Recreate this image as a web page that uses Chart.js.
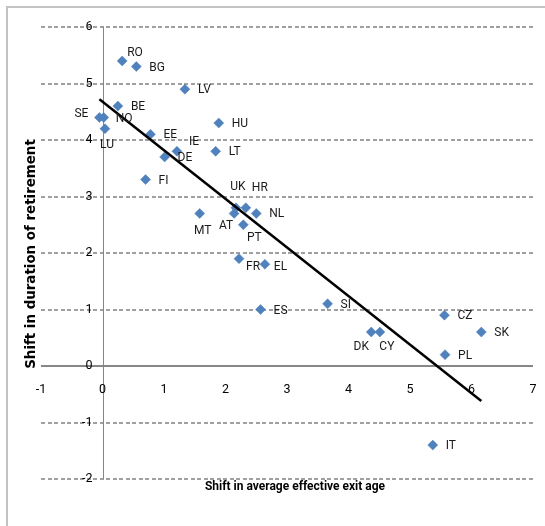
<!DOCTYPE html>
<html>
<head>
<meta charset="utf-8">
<script src="https://cdn.jsdelivr.net/npm/chart.js@4.4.0/dist/chart.umd.min.js"></script>
<style>
  html, body { margin: 0; padding: 0; background: #fff; }
  #wrap { width: 545px; height: 526px; position: relative; }
</style>
</head>
<body>
<div id="wrap"><canvas id="chart"></canvas></div>
<script>
// country codes and their two shifts (years)
const countries = ['RO', 'BG', 'LV', 'BE', 'SE', 'NO', 'LU', 'HU', 'EE', 'IE', 'DE', 'LT', 'FI', 'MT', 'UK',
    'HR', 'AT', 'NL', 'PT', 'FR', 'EL', 'ES', 'SI', 'DK', 'CY', 'CZ', 'SK', 'PL', 'IT'];
const exitAgeShift = [0.32, 0.55, 1.34, 0.25, -0.05, 0.02, 0.04, 1.89, 0.78, 1.21, 1.01, 1.84, 0.70, 1.58, 2.17,
    2.33, 2.14, 2.50, 2.29, 2.22, 2.64, 2.57, 3.66, 4.37, 4.51, 5.56, 6.16, 5.57, 5.37];
const retirementShift = [5.4, 5.3, 4.9, 4.6, 4.4, 4.4, 4.2, 4.3, 4.1, 3.8, 3.7, 3.8, 3.3, 2.7, 2.8,
    2.8, 2.7, 2.7, 2.5, 1.9, 1.8, 1.0, 1.1, 0.6, 0.6, 0.9, 0.6, 0.2, -1.4];

// fitted line end points
const trendX = [-0.05, 6.16];
const trendY = [4.72, -0.62];

const xTitle = 'Shift in average effective exit age';
const yTitle = 'Shift in duration of retirement';

// where each country label sits relative to its marker: [align, dx, dy]
const labelSpots = {
    RO: ['left', 5, -8], SE: ['right', -11, -3], NO: ['left', 12, 2], LU: ['center', 2, 16],
    IE: ['left', 12, -9], MT: ['center', 3, 18], UK: ['center', 2, -21], HR: ['center', 14, -20],
    AT: ['center', -8, 13], PT: ['center', 11, 13], FR: ['center', 14, 8], EL: ['left', 9, 3],
    DK: ['center', -10, 15], CY: ['center', 7, 15]
};

const face = "Roboto, 'Liberation Sans', sans-serif";

const points = countries.map((c, i) => ({ x: exitAgeShift[i], y: retirementShift[i] }));
const trend = trendX.map((x, i) => ({ x: x, y: trendY[i] }));

// axes cross at the origin, so grid, axis lines and tick labels are placed here
const crossAxes = {
    id: 'crossAxes',
    beforeDatasetsDraw(chart) {
        const ctx = chart.ctx;
        const xs = chart.scales.x, ys = chart.scales.y;
        const area = chart.chartArea;
        const x0 = Math.round(xs.getPixelForValue(0)) + 0.5;
        const y0 = Math.round(ys.getPixelForValue(0));
        ctx.save();

        // dashed horizontal grid, dash by dash
        ctx.fillStyle = '#a0a0a0';
        ys.ticks.forEach(t => {
            if (t.value === 0) return;
            const y = Math.round(ys.getPixelForValue(t.value)) - 1;
            for (let x = area.left; x < area.right; x += 6.5) {
                ctx.fillRect(Math.round(x), y, Math.min(4, area.right - x), 2);
            }
        });

        ctx.strokeStyle = '#868686';
        ctx.lineWidth = 1;
        ctx.beginPath();
        ctx.moveTo(x0, area.top);
        ctx.lineTo(x0, area.bottom);
        ctx.stroke();
        ctx.lineWidth = 2;
        ctx.beginPath();
        ctx.moveTo(area.left, y0);
        ctx.lineTo(area.right, y0);
        ctx.stroke();

        ctx.fillStyle = '#000';
        ctx.font = "12.5px " + face;
        ctx.textBaseline = 'middle';
        ctx.textAlign = 'right';
        ys.ticks.forEach(t => {
            ctx.fillText(String(t.value), x0 - 11, ys.getPixelForValue(t.value));
        });
        ctx.textAlign = 'center';
        xs.ticks.forEach(t => {
            ctx.fillText(String(t.value), xs.getPixelForValue(t.value), y0 + 24);
        });
        ctx.restore();
    },
    afterDraw(chart) {
        const ctx = chart.ctx;
        ctx.save();
        // outer frame (only top and left show)
        ctx.strokeStyle = '#c3c3c3';
        ctx.lineWidth = 2;
        ctx.beginPath();
        ctx.moveTo(7, 526);
        ctx.lineTo(7, 7);
        ctx.lineTo(545, 7);
        ctx.stroke();

        ctx.fillStyle = '#000';
        ctx.textAlign = 'center';
        ctx.textBaseline = 'middle';
        ctx.font = "bold 12px " + face;
        ctx.fillText(xTitle, 295, 487);

        ctx.translate(32, 254);
        ctx.rotate(-Math.PI / 2);
        ctx.font = "bold 13.4px 'DejaVu Sans', sans-serif";
        ctx.fillText(yTitle, 0, 0);
        ctx.restore();
    },
    afterDatasetsDraw(chart) {
        const ctx = chart.ctx;
        const meta = chart.getDatasetMeta(1);
        ctx.save();
        ctx.font = "12px " + face;
        ctx.fillStyle = '#1a1a1a';
        ctx.textBaseline = 'middle';
        meta.data.forEach((pt, i) => {
            const spot = labelSpots[countries[i]] || ['left', 13, 1];
            ctx.textAlign = spot[0];
            ctx.fillText(countries[i], pt.x + spot[1], pt.y + spot[2]);
        });
        ctx.restore();
    }
};

new Chart(document.getElementById('chart'), {
    type: 'scatter',
    data: {
        datasets: [{
            type: 'line',
            data: trend,
            borderColor: '#000',
            borderWidth: 2.5,
            pointRadius: 0,
            fill: false,
        }, {
            data: points,
            pointStyle: 'rectRot',
            pointRadius: 5,
            backgroundColor: '#4F81BD',
            borderColor: '#4F81BD',
            borderWidth: 0.5,
        }]
    },
    options: {
        responsive: true,
        maintainAspectRatio: false,
        animation: false,
        devicePixelRatio: 1,
        layout: { padding: { left: 41, right: 12, top: 27, bottom: 47 } },
        plugins: { legend: { display: false }, tooltip: { enabled: false } },
        scales: {
            x: {
                type: 'linear',
                min: -1, max: 7,
                ticks: { stepSize: 1, display: false },
                grid: { display: false, drawTicks: false },
                border: { display: false },
            },
            y: {
                type: 'linear',
                min: -2, max: 6,
                ticks: { stepSize: 1, display: false },
                grid: { display: false, drawTicks: false },
                border: { display: false },
            }
        }
    },
    plugins: [crossAxes]
});
</script>
</body>
</html>
